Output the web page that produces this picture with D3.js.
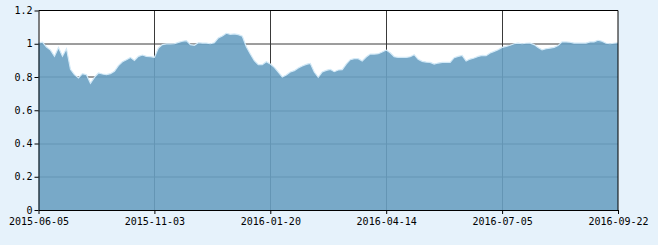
<!DOCTYPE html>
<html>
<head>
<meta charset="utf-8">
<script src="https://cdn.jsdelivr.net/npm/d3@7"></script>
<style>
  body { margin: 0; background: #e6f2fb; }
  svg { display: block; }
</style>
</head>
<body>
<svg id="chart" width="658" height="245"></svg>
<script>
// net value series, one sample per step along the trading-day axis
let values = [
  1.005, 1.01, 0.98, 0.962, 0.925, 0.978, 0.925, 0.97, 0.846, 0.814,
  0.794, 0.82, 0.814, 0.762, 0.798, 0.824, 0.818, 0.814, 0.82, 0.834,
  0.868, 0.892, 0.904, 0.918, 0.90, 0.924, 0.932, 0.924, 0.922, 0.918,
  0.974, 0.995, 0.999, 0.999, 1.0, 1.008, 1.015, 1.019, 0.995, 0.991,
  1.006, 1.004, 1.004, 1.0, 1.006, 1.035, 1.047, 1.063, 1.057, 1.059,
  1.055, 1.045, 0.982, 0.938, 0.898, 0.874, 0.874, 0.892, 0.878, 0.858,
  0.83, 0.80, 0.812, 0.83, 0.838, 0.854, 0.866, 0.876, 0.882, 0.83,
  0.798, 0.83, 0.84, 0.846, 0.832, 0.842, 0.844, 0.878, 0.904, 0.91,
  0.91, 0.896, 0.92, 0.938, 0.938, 0.94, 0.95, 0.962, 0.946, 0.922,
  0.918, 0.918, 0.918, 0.922, 0.934, 0.906, 0.894, 0.89, 0.888, 0.878,
  0.884, 0.888, 0.888, 0.888, 0.916, 0.924, 0.93, 0.896, 0.908, 0.914,
  0.924, 0.93, 0.928, 0.944, 0.954, 0.964, 0.978, 0.984, 0.991, 1.0,
  1.004, 1.0, 1.003, 1.004, 0.995, 0.978, 0.964, 0.97, 0.974, 0.978,
  0.989, 1.011, 1.011, 1.009, 1.004, 1.004, 1.004, 1.004, 1.011, 1.011,
  1.021, 1.015, 1.003, 1.0, 1.003, 1.006
];

let dateLabels = ["2015-06-05", "2015-11-03", "2016-01-20", "2016-04-14", "2016-07-05", "2016-09-22"];
let dateIndex = [0, 29, 58, 87, 116, 145];
let yTicks = [0, 0.2, 0.4, 0.6, 0.8, 1, 1.2];

let svg = d3.select("#chart"),
    margin = {top: 10.5, right: 40, bottom: 35, left: 38.5},
    width = 618 - margin.left,
    height = 210 - margin.top;

let g = svg.append("g")
    .attr("transform", "translate(" + margin.left + "," + margin.top + ")");

let x = d3.scaleLinear().domain([0, values.length - 1]).range([0, width]);
let y = d3.scaleLinear().domain([0, 1.2]).range([height, 0]);

g.append("rect")
    .attr("width", width)
    .attr("height", height)
    .attr("fill", "#fff");

// grid
g.selectAll(".hgrid")
  .data(yTicks.slice(1, -1))
  .enter().append("line")
    .attr("x1", 0).attr("x2", width)
    .attr("y1", function(d) { return Math.round(y(d)) + 0.5; })
    .attr("y2", function(d) { return Math.round(y(d)) + 0.5; })
    .attr("stroke", "#3a3a3a");

g.selectAll(".vgrid")
  .data(dateIndex.slice(1, -1))
  .enter().append("line")
    .attr("y1", 0).attr("y2", height)
    .attr("x1", function(d) { return Math.round(x(d)); })
    .attr("x2", function(d) { return Math.round(x(d)); })
    .attr("stroke", "#3a3a3a");

let area = d3.area()
    .x(function(d, i) { return x(i); })
    .y0(height)
    .y1(function(d) { return y(d); });

let line = d3.line()
    .x(function(d, i) { return x(i); })
    .y(function(d) { return y(d); });

g.append("path")
    .datum(values)
    .attr("d", area)
    .attr("fill", "#69a0c2")
    .attr("fill-opacity", 0.9);

g.append("path")
    .datum(values)
    .attr("d", line)
    .attr("fill", "none")
    .attr("stroke", "#d2e9f7")
    .attr("stroke-width", 1.2);

// frame
g.append("line").attr("x1", 0).attr("x2", width).attr("y1", 0).attr("y2", 0).attr("stroke", "#000");
g.append("line").attr("x1", width).attr("x2", width).attr("y1", 0).attr("y2", height).attr("stroke", "#000");

let xAxis = g.append("g")
    .attr("transform", "translate(0," + height + ")")
    .call(d3.axisBottom(x)
      .tickValues(dateIndex)
      .tickSize(4)
      .tickSizeOuter(0)
      .tickFormat(function(d, i) { return dateLabels[i]; }));

let yAxis = g.append("g")
    .call(d3.axisLeft(y)
      .tickValues(yTicks)
      .tickSize(4)
      .tickSizeOuter(0)
      .tickFormat(function(d) { return d3.format("")(d); }));

[xAxis, yAxis].forEach(function(a) {
  a.select(".domain").attr("stroke", "#000");
  a.selectAll(".tick line").attr("stroke", "#000");
  a.selectAll("text")
    .attr("fill", "#000")
    .style("font-family", "'DejaVu Sans Mono', monospace")
    .style("font-size", "10px");
});
xAxis.selectAll("text").attr("dy", "0.9em").attr("y", 6);
yAxis.selectAll("text").attr("x", -6);
</script>
</body>
</html>
